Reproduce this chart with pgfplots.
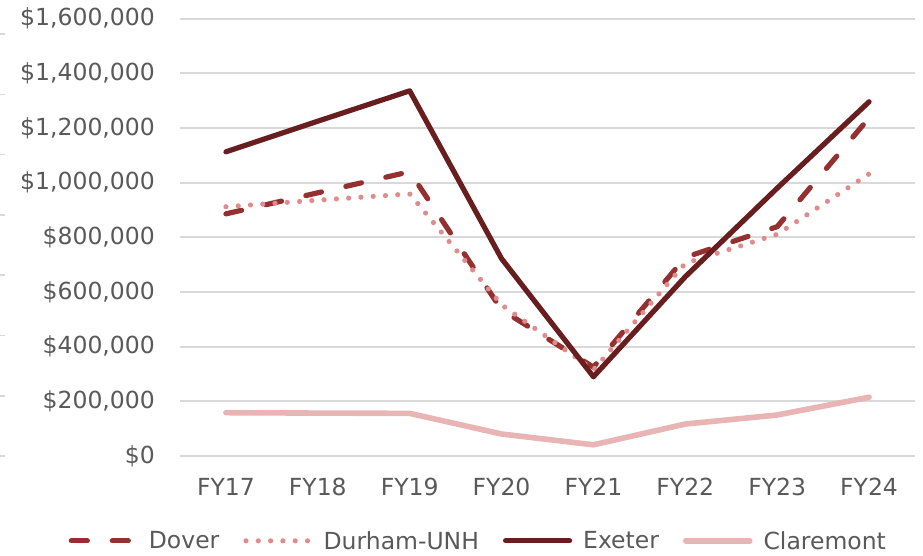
\documentclass[border=0pt]{standalone}
\usepackage{pgfplots}
\pgfplotsset{compat=1.18}
\usepackage{fontspec}
\setmainfont{DejaVu Sans}
\definecolor{exeter}{RGB}{104,30,30}
\definecolor{dover}{RGB}{149,48,48}
\definecolor{durham}{RGB}{224,140,140}
\definecolor{claremont}{RGB}{232,180,180}
\definecolor{gridgray}{RGB}{217,217,217}
\definecolor{txt}{RGB}{89,89,89}
\begin{document}
\begin{tikzpicture}[x=1pt,y=1pt]
\useasboundingbox (0,0) rectangle (923,555);
\foreach \yy in {34,94.3,154.6,214.9,275.2,335.5,395.8,456.1}{
  \draw[gridgray, line width=1.5pt] (0,555-\yy) -- (5,555-\yy);
}
\begin{axis}[
  at={(180pt,99pt)}, anchor=south west,
  scale only axis, width=735pt, height=437.3pt,
  xmin=-0.5, xmax=7.5, ymin=0, ymax=1600000,
  axis line style={draw=none},
  major tick length=0pt,
  ymajorgrids, grid style={color=gridgray, line width=1.8pt},
  xtick={0,...,7},
  xticklabels={FY17,FY18,FY19,FY20,FY21,FY22,FY23,FY24},
  ytick={0,200000,400000,600000,800000,1000000,1200000,1400000,1600000},
  yticklabels={{\$0},{\$200,000},{\$400,000},{\$600,000},{\$800,000},{\$1,000,000},{\$1,200,000},{\$1,400,000},{\$1,600,000}},
  scaled y ticks=false,
  tick label style={font=\fontsize{23.5}{28}\selectfont, text=txt, inner sep=0pt},
  yticklabel style={anchor=east, xshift=-25pt},
  xticklabel style={anchor=north, yshift=-22pt},
  clip=false,
  legend columns=4,
  legend style={at={(0.4045,-0.194)}, anchor=center, draw=none, fill=none,
    font=\fontsize{23.5}{28}\selectfont, text=txt,
    nodes={inner sep=0pt},
    /tikz/every odd column/.append style={column sep=11pt},
    /tikz/every even column/.append style={column sep=24pt}},
  legend image code/.code={\draw[#1] (0pt,0pt) -- (64pt,0pt);},
]
\addplot[dover, line width=5.2pt, line cap=round, dash pattern=on 16pt off 25pt]
  coordinates {(0,886000) (1,963000) (2,1040000) (3,535000) (4,325000) (5,727000) (6,839000) (7,1237000)};
\addlegendentry{Dover}
\addplot[durham, line width=5.2pt, line cap=round, dash pattern=on 0pt off 12.3pt]
  coordinates {(0,912000) (1,936000) (2,959000) (3,553000) (4,315000) (5,705000) (6,811000) (7,1032000)};
\addlegendentry{Durham-UNH}
\addplot[exeter, line width=5.2pt, line cap=round, line join=round]
  coordinates {(0,1113000) (1,1225000) (2,1336000) (3,722000) (4,290000) (5,656000) (6,980000) (7,1296000)};
\addlegendentry{Exeter}
\addplot[claremont, line width=5.6pt, line cap=round, line join=round]
  coordinates {(0,158500) (1,157000) (2,156000) (3,80500) (4,41000) (5,117000) (6,150000) (7,215000)};
\addlegendentry{Claremont}
\end{axis}
\end{tikzpicture}
\end{document}
